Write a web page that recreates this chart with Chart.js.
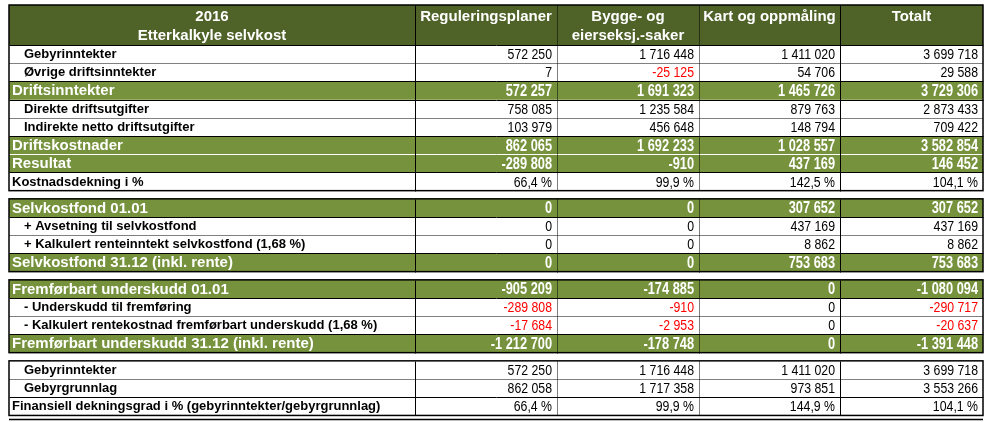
<!DOCTYPE html>
<html><head><meta charset="utf-8">
<script src="https://cdn.jsdelivr.net/npm/chart.js@4/dist/chart.umd.min.js"></script>
<style>html,body{margin:0;padding:0;background:#fff;}canvas{display:block;}</style>
</head><body>
<canvas id="c" width="988" height="422"></canvas>
<script>
// ---------- data ----------
const headerLines = [
  ['2016', 'Etterkalkyle selvkost'],
  ['Reguleringsplaner'],
  ['Bygge- og', 'eierseksj.-saker'],
  ['Kart og oppmåling'],
  ['Totalt']
];
const rowLabels = [
  'Gebyrinntekter', 'Øvrige driftsinntekter', 'Driftsinntekter',
  'Direkte driftsutgifter', 'Indirekte netto driftsutgifter', 'Driftskostnader',
  'Resultat', 'Kostnadsdekning i %',
  'Selvkostfond 01.01', '+ Avsetning til selvkostfond',
  '+ Kalkulert renteinntekt selvkostfond (1,68 %)', 'Selvkostfond 31.12 (inkl. rente)',
  'Fremførbart underskudd 01.01', '- Underskudd til fremføring',
  '- Kalkulert rentekostnad fremførbart underskudd (1,68 %)', 'Fremførbart underskudd 31.12 (inkl. rente)',
  'Gebyrinntekter', 'Gebyrgrunnlag', 'Finansiell dekningsgrad i % (gebyrinntekter/gebyrgrunnlag)'
];
const rowKinds = [
  'item', 'item', 'sum', 'item', 'item', 'sum', 'sum', 'ratio',
  'sum', 'item', 'item', 'sum',
  'sum', 'item', 'item', 'sum',
  'item', 'item', 'ratio'
];
const rowSections = [0,0,0,0,0,0,0,0, 1,1,1,1, 2,2,2,2, 3,3,3];
const reguleringsplaner = [572250, 7, 572257, 758085, 103979, 862065, -289808, 66.4,
  0, 0, 0, 0, -905209, -289808, -17684, -1212700, 572250, 862058, 66.4];
const byggeOgEierseksjSaker = [1716448, -25125, 1691323, 1235584, 456648, 1692233, -910, 99.9,
  0, 0, 0, 0, -174885, -910, -2953, -178748, 1716448, 1717358, 99.9];
const kartOgOppmaling = [1411020, 54706, 1465726, 879763, 148794, 1028557, 437169, 142.5,
  307652, 437169, 8862, 753683, 0, 0, 0, 0, 1411020, 973851, 144.9];
const totalt = [3699718, 29588, 3729306, 2873433, 709422, 3582854, 146452, 104.1,
  307652, 437169, 8862, 753683, -1080094, -290717, -20637, -1391448, 3699718, 3553266, 104.1];
const valueColumns = [reguleringsplaner, byggeOgEierseksjSaker, kartOgOppmaling, totalt];

// ---------- layout & style ----------
const colWidths = [406, 142, 142, 141, 143];
const colSeparators = ['solid', 'dotted', 'dotted', 'solid'];
const HEADER_ROWS = 2.2, GAP = 0.45, TAIL = 0.25;
const colEdges = colWidths.reduce((a, w) => { a.push(a[a.length - 1] + w); return a; }, [0]);
const tableW = colEdges[colEdges.length - 1];
const rowTop = i => HEADER_ROWS + i + rowSections[i] * GAP;
const yMax = rowTop(rowLabels.length - 1) + 1 + TAIL;
const COLORS = { header: '#4F6228', sum: '#76923C', neg: '#FF0000', text: '#000000' };
const FONT = "'Liberation Sans', Arial, sans-serif";

function fmtNum(v) {
  const s = Math.abs(v).toString().replace(/\B(?=(\d{3})+(?!\d))/g, ' ');
  return (v < 0 ? '-' : '') + s;
}
function fmtPct(v) { return v.toFixed(1).replace('.', ',') + ' %'; }

const headerData = [{ x: [0, tableW], y: HEADER_ROWS / 2 }];
const sumData = rowLabels.map((l, i) => rowKinds[i] === 'sum' ? { x: [0, tableW], y: rowTop(i) + 0.5 } : null)
  .filter(Boolean);

const tablePlugin = {
  id: 'tableText',
  afterDatasetsDraw(chart) {
    const { ctx, scales: { x, y } } = chart;
    const X = v => x.getPixelForValue(v);
    const Y = v => y.getPixelForValue(v);
    const px = v => Math.round(v) + 0.5;
    function line(x1, y1, x2, y2, color, w, dash) {
      ctx.beginPath(); ctx.strokeStyle = color; ctx.lineWidth = w;
      ctx.setLineDash(dash || []); ctx.moveTo(x1, y1); ctx.lineTo(x2, y2); ctx.stroke();
    }
    ctx.save();
    const sections = [...new Set(rowSections)];
    sections.forEach(s => {
      const rows = rowLabels.map((_, i) => i).filter(i => rowSections[i] === s);
      const first = rows[0], last = rows[rows.length - 1];
      const top = s === 0 ? 0 : rowTop(first);
      const bottom = rowTop(last) + 1;
      const yT = px(Y(top)), yB = px(Y(bottom));
      const xL = px(X(0)), xR = px(X(tableW));
      if (s === 0) line(xL, px(Y(HEADER_ROWS)), xR, px(Y(HEADER_ROWS)), '#000', 1);
      for (let k = 0; k < rows.length - 1; k++) {
        const a = rows[k], b = rows[k + 1];
        const yy = px(Y(rowTop(b)));
        if (rowKinds[a] === 'item' && rowKinds[b] === 'item') line(xL, yy, xR, yy, '#000', 1, [1, 1]);
        else if (rowKinds[a] === 'sum' && rowKinds[b] === 'sum') line(xL, yy, xR, yy, '#ffffff', 1);
        else line(xL, yy, xR, yy, '#000', 1);
      }
      for (let e = 1; e < colEdges.length - 1; e++) {
        const xx = px(X(colEdges[e]));
        line(xx, yT, xx, yB, '#000', 1, colSeparators[e - 1] === 'dotted' ? [1, 1] : null);
      }
      ctx.setLineDash([]);
      ctx.lineWidth = 1.5; ctx.strokeStyle = '#000';
      ctx.strokeRect(X(0), Y(top), X(tableW) - X(0), Y(bottom) - Y(top));
    });
    // bottom rule
    line(X(0), Y(yMax) - 0.5, X(tableW), Y(yMax) - 0.5, '#000', 1.5);

    // header text
    ctx.fillStyle = '#ffffff';
    ctx.textBaseline = 'middle';
    ctx.textAlign = 'center';
    ctx.font = 'bold 15px ' + FONT;
    const headerLineY = [0.64, 1.71];
    headerLines.forEach((lines, c) => {
      const cx = (X(colEdges[c]) + X(colEdges[c + 1])) / 2;
      lines.forEach((t, k) => ctx.fillText(t, cx, Y(headerLineY[k])));
    });

    // rows
    rowLabels.forEach((label, i) => {
      const kind = rowKinds[i];
      const cy = Y(rowTop(i) + 0.5) + 0.5;
      ctx.textAlign = 'left';
      ctx.fillStyle = kind === 'sum' ? '#ffffff' : COLORS.text;
      ctx.font = (kind === 'sum' ? 'bold 15px ' : 'bold 13px ') + FONT;
      ctx.fillText(label, X(0) + (kind === 'item' ? 15 : 3), cy);
      valueColumns.forEach((col, c) => {
        const v = col[i];
        const str = kind === 'ratio' ? fmtPct(v) : fmtNum(v);
        ctx.fillStyle = kind === 'sum' ? '#ffffff' : (v < 0 ? COLORS.neg : COLORS.text);
        ctx.font = (kind === 'sum' ? 'bold 16px ' : '15px ') + FONT;
        ctx.save();
        ctx.translate(X(colEdges[c + 2]) - 5, cy + 0.5);
        ctx.scale(kind === 'sum' ? 0.8 : 0.82, 1);
        ctx.textAlign = 'right';
        ctx.fillText(str, 0, 0);
        ctx.restore();
      });
    });
    ctx.restore();
  }
};

new Chart(document.getElementById('c'), {
  type: 'bar',
  data: {
    datasets: [
      { data: headerData, backgroundColor: COLORS.header, grouped: false,
        categoryPercentage: 1, barPercentage: HEADER_ROWS, borderWidth: 0, inflateAmount: 0 },
      { data: sumData, backgroundColor: COLORS.sum, grouped: false,
        categoryPercentage: 1, barPercentage: 1, borderWidth: 0, inflateAmount: 0 }
    ]
  },
  options: {
    indexAxis: 'y',
    responsive: false,
    animation: false,
    events: [],
    layout: { padding: { left: 9, right: 5, top: 5, bottom: 2 } },
    plugins: { legend: { display: false }, tooltip: { enabled: false } },
    scales: {
      x: { type: 'linear', min: 0, max: tableW, display: false, offset: false },
      y: { type: 'linear', min: 0, max: yMax, reverse: true, display: false, offset: false,
           afterBuildTicks: s => { s.ticks = [{ value: 0 }, { value: yMax }]; } }
    }
  },
  plugins: [tablePlugin]
});
</script>
</body></html>
